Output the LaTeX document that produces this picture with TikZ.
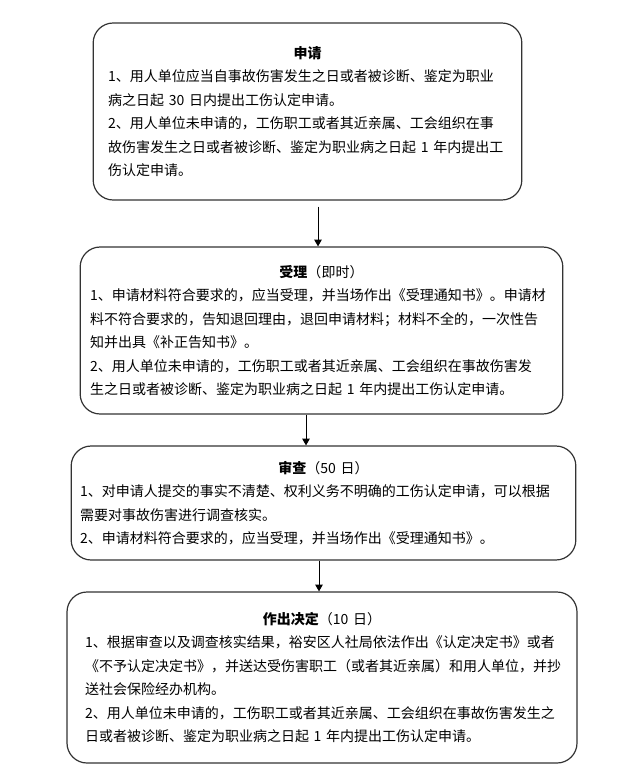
\documentclass[tikz,border=0pt]{standalone}
\usepackage{fontspec}
\setmainfont{Noto Sans CJK SC}
\usepackage{xcolor}
\usetikzlibrary{arrows.meta}
\definecolor{boxgray}{HTML}{333333}

\tikzset{
  stepbox/.style={draw=boxgray, line width=0.9pt, rounded corners=15pt,
    align=left, inner ysep=0pt},
}

\begin{document}
\begin{tikzpicture}[>={Triangle[width=5.5pt,length=5pt]}, x=0.75pt, y=-0.75pt,
    font=\fontsize{10.5pt}{17.6pt}\selectfont]
  \useasboundingbox (0,0) rectangle (621,775);

  \node[stepbox, text width=299pt, inner xsep=11.25pt, minimum height=132.75pt] (shenqing) at (307.5,111.5) {%
    {\centering\textbf{申请}\par}
    1、用人单位应当自事故伤害发生之日或者被诊断、鉴定为职业\\
    病之日起 30 日内提出工伤认定申请。\\
    2、用人单位未申请的，工伤职工或者其近亲属、工会组织在事\\
    故伤害发生之日或者被诊断、鉴定为职业病之日起 1 年内提出工\\
    伤认定申请。};

  \node[stepbox, text width=347pt, inner xsep=7.5pt, minimum height=125.25pt] (shouli) at (321.5,330.5) {%
    {\centering\textbf{受理}（即时）\par}
    1、申请材料符合要求的，应当受理，并当场作出《受理通知书》。申请材\\
    料不符合要求的，告知退回理由，退回申请材料；材料不全的，一次性告\\
    知并出具《补正告知书》。\\
    2、用人单位未申请的，工伤职工或者其近亲属、工会组织在事故伤害发\\
    生之日或者被诊断、鉴定为职业病之日起 1 年内提出工伤认定申请。};

  \node[stepbox, text width=365pt, inner xsep=6.75pt, minimum height=85.5pt] (shencha) at (323.5,503) {%
    {\centering\textbf{审查}（50 日）\par}
    1、对申请人提交的事实不清楚、权利义务不明确的工伤认定申请，可以根据\\
    需要对事故伤害进行调查核实。\\
    2、申请材料符合要求的，应当受理，并当场作出《受理通知书》。};

  \node[stepbox, text width=355.5pt, inner xsep=13.5pt, minimum height=128.25pt] (jueding) at (322,677.5) {%
    {\centering\textbf{作出决定}（10 日）\par}
    1、根据审查以及调查核实结果，裕安区人社局依法作出《认定决定书》或者\\
    《不予认定决定书》，并送达受伤害职工（或者其近亲属）和用人单位，并抄\\
    送社会保险经办机构。\\
    2、用人单位未申请的，工伤职工或者其近亲属、工会组织在事故伤害发生之\\
    日或者被诊断、鉴定为职业病之日起 1 年内提出工伤认定申请。};

  % arrows between the steps
  \draw[->, line width=0.75pt, shorten <=4.5pt] (shenqing.south -| 318,0) -- (shouli.north -| 318,0);
  \draw[->, line width=0.75pt] (shouli.south -| 306,0) -- (shencha.north -| 306,0);
  \draw[->, line width=0.75pt] (shencha.south -| 319,0) -- (jueding.north -| 319,0);
\end{tikzpicture}
\end{document}
